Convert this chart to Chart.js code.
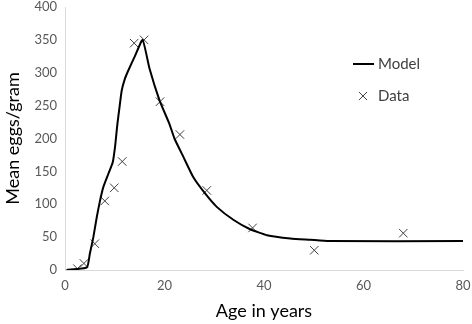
<!DOCTYPE html>
<html>
<head>
<meta charset="utf-8">
<script src="https://cdn.jsdelivr.net/npm/chart.js@4"></script>
<style>
html,body{margin:0;padding:0;background:#fff;}
#wrap{width:472px;height:324px;position:relative;}
</style>
</head>
<body>
<div id="wrap"><canvas id="c" width="472" height="324"></canvas></div>
<script>
// Model curve (age in years, mean eggs/gram)
const modelAge  = [0.3, 4.4, 5.0, 5.7, 6.4, 7.0, 7.7, 8.7, 9.6, 10.1, 10.5, 11.0, 11.4, 12.0, 12.7, 14.1, 15.6, 17.0, 19.0, 21.0, 22.0, 23.8, 25.8, 28.2, 30.5, 33.9, 37.2, 40.6, 45.3, 49.3, 53.0, 80.0];
const modelEggs = [0,   4,   25,  50,  81,  104, 126, 146, 164, 190,  220,  250,  273,  290,  303,  326,  350,  306,  258,  222,  200,  172,  141,  116,  96,   76,   62,   53,   48,   46,   44,   44];
// Observed data
const dataAge  = [2.5, 3.8, 6.0, 8.0, 9.9, 11.5, 13.9, 15.9, 19.1, 23.1, 28.5, 37.7, 50.1, 68.0];
const dataEggs = [2,   10,  40,  105, 125, 165,  345,  350,  256,  206,  121,  64,   30,   56];
const xTicks = [0, 20, 40, 60, 80];
const yTicks = [0, 50, 100, 150, 200, 250, 300, 350, 400];
const seriesNames = ['Model', 'Data'];
const xTitle = 'Age in years';
const yTitle = 'Mean eggs/gram';

const FONT = "Lato, 'Open Sans', 'Liberation Sans', sans-serif";
const toXY = (xs, ys) => xs.map((x, i) => ({x: x, y: ys[i]}));

const legendPlugin = {
  id: 'insideLegend',
  afterDraw(chart) {
    const ctx = chart.ctx;
    ctx.save();
    ctx.font = "15px " + FONT;
    ctx.fillStyle = '#404040';
    ctx.textBaseline = 'middle';
    ctx.textAlign = 'left';
    // Model
    ctx.strokeStyle = '#000';
    ctx.lineWidth = 2;
    ctx.beginPath();
    ctx.moveTo(353, 64); ctx.lineTo(374, 64);
    ctx.stroke();
    ctx.fillText(chart.data.datasets[0].label, 378, 64);
    // Data
    ctx.strokeStyle = '#404040';
    ctx.lineWidth = 1;
    const cx = 363, cy = 96, r = 4;
    ctx.beginPath();
    ctx.moveTo(cx - r, cy - r); ctx.lineTo(cx + r, cy + r);
    ctx.moveTo(cx + r, cy - r); ctx.lineTo(cx - r, cy + r);
    ctx.stroke();
    ctx.fillText(chart.data.datasets[1].label, 378, 96);
    ctx.restore();
  }
};

function noPad(s) { s.paddingTop = 0; s.paddingBottom = 0; s.paddingLeft = 0; s.paddingRight = 0; }

new Chart(document.getElementById('c'), {
  type: 'scatter',
  data: {
    datasets: [
      {
        label: seriesNames[0],
        data: toXY(modelAge, modelEggs),
        showLine: true,
        borderColor: '#000',
        borderWidth: 2,
        pointRadius: 0,
        tension: 0.15,
        fill: false
      },
      {
        label: seriesNames[1],
        data: toXY(dataAge, dataEggs),
        showLine: false,
        pointStyle: 'crossRot',
        pointRadius: 6,
        pointBorderColor: '#404040',
        pointBorderWidth: 1,
        pointBackgroundColor: '#404040'
      }
    ]
  },
  options: {
    responsive: false,
    animation: false,
    devicePixelRatio: 1,
    layout: {padding: {top: 6, right: 9, left: 0, bottom: 0}},
    plugins: {legend: {display: false}, tooltip: {enabled: false}},
    scales: {
      x: {
        type: 'linear',
        min: 0, max: 80,
        afterBuildTicks(s) { s.ticks = xTicks.map(v => ({value: v})); },
        afterFit(s) { s.height = 54; noPad(s); },
        grid: {display: true, drawOnChartArea: false, drawTicks: false, color: '#d9d9d9'},
        border: {display: true, color: '#d9d9d9', width: 1},
        ticks: {color: '#595959', font: {family: FONT, size: 13}, padding: 8, maxRotation: 0},
        title: {display: true, text: xTitle, color: '#000', font: {family: FONT, size: 18}, padding: {top: 4, bottom: 2}}
      },
      y: {
        type: 'linear',
        min: 0, max: 400,
        afterBuildTicks(s) { s.ticks = yTicks.map(v => ({value: v})); },
        afterFit(s) { s.width = 65; noPad(s); },
        grid: {display: true, drawOnChartArea: false, drawTicks: false, color: '#d9d9d9'},
        border: {display: true, color: '#d9d9d9', width: 1},
        ticks: {color: '#595959', font: {family: FONT, size: 13}, padding: 8},
        title: {display: true, text: yTitle, color: '#000', font: {family: FONT, size: 18}, padding: {top: 2, bottom: 4}}
      }
    }
  },
  plugins: [legendPlugin]
});
</script>
</body>
</html>
